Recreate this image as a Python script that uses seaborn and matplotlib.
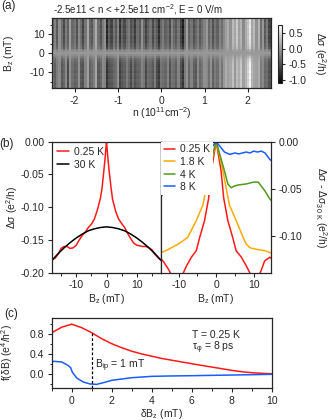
import numpy as np
import pandas as pd
import seaborn as sns
import matplotlib.pyplot as plt
from matplotlib.ticker import MultipleLocator

sns.set_style('ticks')
plt.rcParams['font.family'] = ['Liberation Sans', 'DejaVu Sans']
plt.rcParams['mathtext.fontset'] = 'custom'
plt.rcParams['mathtext.rm'] = 'Liberation Sans'
plt.rcParams['mathtext.it'] = 'Liberation Sans:italic'
plt.rcParams['mathtext.default'] = 'regular'
plt.rcParams['font.size'] = 7.5
plt.rcParams['axes.linewidth'] = 0.9
for k in ['xtick', 'ytick']:
    plt.rcParams[k + '.direction'] = 'out'
    plt.rcParams[k + '.major.size'] = 3
    plt.rcParams[k + '.minor.size'] = 1.8
    plt.rcParams[k + '.major.width'] = 0.8
    plt.rcParams[k + '.minor.width'] = 0.7
    plt.rcParams[k + '.major.pad'] = 2.5
    plt.rcParams[k + '.labelsize'] = 7.5

# ---- (a) map data: streak strength per n column (upper / lower half), scale per Bz row
n_cols = np.round(np.linspace(-2.5, 2.5, 101), 2)
streaks_top = [-0.35, -0.15, -0.45, -0.05, -0.30, -0.55, -0.20, -0.40, 0.05, -0.35, -0.25,
               -0.50, -0.10, -0.30, -0.60, -0.25, 0.10, -0.35, -0.45, -0.15, 0.15,
               -0.30, -0.50, -0.20, -0.05, -0.80, -0.40, -0.60, -0.25, -0.45, -0.15,
               -0.70, -0.35, -0.55, -0.30, -0.20, -0.50, -0.40, -0.65, -0.30, -0.45,
               -0.05, -0.35, -0.60, -0.40, -0.25, -0.55, -0.30, -0.45, -0.75, -0.35,
               -0.20, -0.40, -0.30, -0.55, -0.15, -0.35, -0.45, -0.25, -0.60, -0.85,
               -0.30, 0.05, -0.40, -0.25, -0.50, -0.35, -0.20, -0.45, -0.30, -0.15,
               0.00, -0.35, -0.20, -0.50, -0.25, -0.40, -0.15, -0.30, -0.10, 0.05,
               0.15, -0.05, 0.25, 0.10, 0.35, 0.05, 0.20, -0.10, 0.15, 0.30,
               0.55, 0.10, 0.25, -0.05, 0.20, -0.30, 0.00, -0.45, -0.20, -0.60]
streaks_bot = [-0.25, -0.40, -0.20, -0.10, -0.45, -0.35, -0.10, -0.55, -0.05, -0.30, -0.40,
               -0.35, -0.05, -0.45, -0.50, -0.15, 0.05, -0.40, -0.30, -0.20, 0.10,
               -0.45, -0.35, -0.10, -0.15, -0.70, -0.50, -0.45, -0.35, -0.30, -0.05,
               -0.60, -0.45, -0.40, -0.20, -0.35, -0.55, -0.30, -0.50, -0.40, -0.35,
               -0.15, -0.25, -0.55, -0.30, -0.35, -0.45, -0.20, -0.55, -0.65, -0.25,
               -0.30, -0.35, -0.15, -0.50, -0.25, -0.30, -0.40, -0.15, -0.50, -0.70,
               -0.20, -0.05, -0.35, -0.15, -0.40, -0.45, -0.10, -0.35, -0.25, -0.05,
               -0.10, -0.30, -0.05, -0.40, -0.20, -0.30, -0.05, -0.25, 0.00, 0.15,
               0.05, 0.10, 0.30, 0.00, 0.25, 0.15, 0.35, 0.05, 0.20, 0.40,
               0.65, 0.20, 0.10, 0.05, 0.15, -0.20, -0.10, -0.35, -0.30, -0.50]
bz_rows = list(range(18, -19, -1))
row_scale = [1.00, 1.05, 0.95, 1.00, 1.10, 0.95, 1.00, 1.05, 0.90, 1.00, 1.05, 0.95,
             1.00, 0.90, 0.85, 0.75, 0.45, 0.20, 0.00, 0.20, 0.45, 0.75, 0.85, 0.95,
             1.00, 1.05, 0.95, 1.00, 1.10, 0.95, 1.00, 1.05, 0.90, 1.00, 1.05, 0.95, 1.00]

# ---- (b) left: 0.25 K and 30 K
bz_low = [-18, -17, -16, -15, -14, -13, -12, -11, -10, -9, -8, -7, -6, -5, -4, -3, -2,
          -1.5, -1, -0.5, -0.25, 0, 0.25, 0.5, 1, 1.5,
          2, 3, 4, 5, 6, 7, 8, 9, 10, 11, 12, 13, 14, 15, 16, 17, 18]
ds_low = [-0.180, -0.178, -0.172, -0.163, -0.160, -0.160, -0.163, -0.162, -0.158, -0.150,
          -0.143, -0.138, -0.131, -0.126, -0.118, -0.104, -0.086, -0.072, -0.050, -0.027,
          -0.013, 0.0, -0.013, -0.027, -0.050, -0.070, -0.088, -0.106, -0.118, -0.125,
          -0.131, -0.140, -0.148, -0.155, -0.158, -0.159, -0.160, -0.160, -0.162, -0.165,
          -0.172, -0.177, -0.181]
bz_30 = [-18, -16, -14, -12, -10, -8, -6, -4, -2, 0, 2, 4, 6, 8, 10, 12, 14, 16, 18]
ds_30 = [-0.181, -0.171, -0.162, -0.154, -0.147, -0.141, -0.136, -0.133, -0.131, -0.130,
         -0.131, -0.133, -0.136, -0.141, -0.147, -0.154, -0.162, -0.171, -0.181]

# ---- (b) right: minus 30 K, shifted
bz_r025 = [-15, -14.6, -14, -13, -12, -11, -10, -9, -8, -6.6, -5.3, -4.4, -3.1, -2, -1.3, -0.6,
           0, 0.6, 1.3, 2, 3.1, 4.4, 5.3, 6.7, 8, 9, 10, 11, 12, 12.9, 14.3, 15]
dd_r025 = [-0.124, -0.125, -0.128, -0.134, -0.141, -0.146, -0.147, -0.142, -0.133, -0.123,
           -0.116, -0.102, -0.084, -0.060, -0.031, -0.014, 0.0, -0.014, -0.031, -0.060,
           -0.084, -0.102, -0.116, -0.123, -0.132, -0.140, -0.146, -0.146, -0.137, -0.127,
           -0.123, -0.125]
bz_r18 = [-15, -14.6, -12.9, -10.1, -7.6, -5.3, -3.5, -1.8, -0.9, 0, 0.9, 1.8, 3.5, 5.3,
          7.2, 8, 9, 11.2, 13, 14.3, 15]
dd_r18 = [-0.119, -0.118, -0.115, -0.109, -0.102, -0.084, -0.067, -0.031, -0.015, 0.0,
          -0.015, -0.031, -0.067, -0.084, -0.102, -0.109, -0.113, -0.115, -0.116, -0.118, -0.119]
bz_r4 = [-15, -14.6, -13, -11, -8, -5, -4, -3.1, -2.2, -1, 0, 1, 2.2, 3.1, 4, 5, 6, 8, 10,
         11.2, 12.9, 14.3, 15]
dd_r4 = [-0.063, -0.058, -0.050, -0.045, -0.045, -0.046, -0.048, -0.044, -0.031, -0.014, 0.0,
         -0.014, -0.031, -0.045, -0.049, -0.047, -0.046, -0.045, -0.043, -0.043, -0.052,
         -0.061, -0.064]
bz_r8 = [-15, -12, -9, -6, -3.6, -2.2, -1, 0, 1, 2.2, 3.6, 5, 6, 7, 8, 9, 10, 11, 12, 13, 14.3, 15]
dd_r8 = [-0.013, -0.012, -0.012, -0.012, -0.013, -0.012, -0.005, 0.0, -0.005, -0.011, -0.0135,
         -0.012, -0.013, -0.012, -0.011, -0.012, -0.010, -0.011, -0.010, -0.012, -0.019, -0.021]

# ---- (c) correlation functions
db_red = [-1, -0.5, 0, 0.5, 1, 1.5, 2, 2.5, 3, 3.5, 4, 4.5, 5, 5.5, 6, 6.5, 7, 7.5, 8, 8.5,
          9, 9.5, 10]
f_red = [0.82, 0.93, 0.99, 0.92, 0.82, 0.70, 0.60, 0.52, 0.45, 0.395, 0.35, 0.305, 0.27,
         0.235, 0.20, 0.165, 0.133, 0.10, 0.067, 0.04, 0.02, 0.008, 0.0]
db_blue = [-1, -0.5, -0.2, -0.05, 0, 0.05, 0.25, 0.58, 0.92, 1.25, 1.58, 2, 3, 4, 5, 6, 7, 8, 9, 10]
f_blue = [0.25, 0.235, 0.17, 0.12, 0.06, 0.02, -0.086, -0.166, -0.206, -0.213, -0.18, -0.133,
          -0.08, -0.053, -0.045, -0.04, -0.033, -0.027, -0.02, -0.012]
b_ip = 1

RED, ORANGE, GREEN, BLUE = '#ff1a1a', '#ffaa00', '#4f9c1c', '#1a5cff'
LW = 1.1

fig = plt.figure(figsize=(3.35, 4.2), dpi=100)
W, H = 335, 420


def box(x0, y0, x1, y1):
    return [x0 / W, 1 - y1 / H, (x1 - x0) / W, (y1 - y0) / H]


# ---------------- (a)
ax_a = fig.add_axes(box(52, 18.3, 270.5, 88.3))
cax = fig.add_axes(box(278.3, 25, 282.3, 83.3))
half = len(bz_rows) // 2
map_vals = np.vstack([np.outer(row_scale[:half + 1], streaks_top),
                      np.outer(row_scale[half + 1:], streaks_bot)])
map_df = pd.DataFrame(map_vals, index=bz_rows, columns=n_cols)
sns.heatmap(map_df, ax=ax_a, cmap='gray', vmin=-1.1, vmax=0.75, cbar_ax=cax,
            xticklabels=False, yticklabels=False)
for s in ax_a.spines.values():
    s.set_visible(True)
    s.set_linewidth(0.9)
step_n = n_cols[1] - n_cols[0]
nt = [-2, -1, 0, 1, 2]
ax_a.set_xticks([(v - n_cols[0]) / step_n + 0.5 for v in nt])
ax_a.set_xticklabels([str(v) for v in nt])
bt = [10, 0, -10]
ax_a.set_yticks([bz_rows[0] - v + 0.5 for v in bt])
ax_a.set_yticklabels([str(v) for v in bt])
ax_a.set_yticks([bz_rows[0] - v + 0.5 for v in [15, 5, -5, -15]], minor=True)
ax_a.tick_params(axis='both', which='both', direction='out', left=True, bottom=True)
ax_a.set_xlabel('n (10$^{11}$cm$^{-2}$)')
ax_a.set_ylabel('B$_z$ (mT)')
ax_a.xaxis.set_label_coords(0.5, -0.24)
ax_a.yaxis.set_label_coords(-0.165, 0.5)
cb = ax_a.collections[0].colorbar
cb.outline.set_linewidth(0.8)
cb.set_ticks([0.5, 0.0, -0.5, -1.0])
cb.set_ticklabels(['0.5', '0.0', '-0.5', '-1.0'])
cax.tick_params(length=2.5, width=0.8, pad=2)
cb.set_label('Δσ (e$^2$/h)', rotation=270, va='center')
cax.yaxis.set_label_coords(10.4, 0.5)
fig.text(8 / W, 1 - 6 / H, '(a)', fontsize=8.5, ha='center', va='center')
fig.text(53 / W, 1 - 10 / H, '-2.5e11 < n < +2.5e11 cm$^{-2}$, E = 0 V/m', fontsize=7,
         ha='left', va='center')

# ---------------- (b) left
ax_bl = fig.add_axes(box(52, 141.7, 161, 272.7))
sns.lineplot(x=bz_low, y=ds_low, ax=ax_bl, color=RED, lw=LW, label='0.25 K')
sns.lineplot(x=bz_30, y=ds_30, ax=ax_bl, color='black', lw=LW, label='30 K')
ax_bl.set_xlim(-18, 18)
ax_bl.set_ylim(-0.20, 0.0)
ax_bl.set_yticks([0.0, -0.05, -0.10, -0.15, -0.20])
ax_bl.set_yticklabels(['0.00', '-0.05', '-0.10', '-0.15', '-0.20'])
ax_bl.set_xticks([-10, 0, 10])
ax_bl.xaxis.set_minor_locator(MultipleLocator(5))
ax_bl.set_xticklabels(['-10', '0', '10'])
ax_bl.set_xlabel('B$_z$ (mT)')
ax_bl.set_ylabel('Δσ (e$^2$/h)')
ax_bl.xaxis.set_label_coords(0.5, -0.147)
ax_bl.yaxis.set_label_coords(-0.294, 0.5)
ax_bl.legend(loc='upper left', frameon=False, handlelength=1.1, handletextpad=0.5,
             labelspacing=0.25, borderaxespad=0.3, borderpad=0.2, fontsize=7.5)
fig.text(7 / W, 1 - 144 / H, '(b)', fontsize=8.5, ha='center', va='center')

# ---------------- (b) right
ax_br = fig.add_axes(box(161, 141.7, 271, 272.7))
sns.lineplot(x=bz_r025, y=dd_r025, ax=ax_br, color=RED, lw=LW, label='0.25 K')
sns.lineplot(x=bz_r18, y=dd_r18, ax=ax_br, color=ORANGE, lw=LW, label='1.8 K')
sns.lineplot(x=bz_r4, y=dd_r4, ax=ax_br, color=GREEN, lw=LW, label='4 K')
sns.lineplot(x=bz_r8, y=dd_r8, ax=ax_br, color=BLUE, lw=LW, label='8 K')
ax_br.set_xlim(-14.7, 14.6)
ax_br.set_ylim(-0.1395, 0.0)
ax_br.yaxis.tick_right()
ax_br.yaxis.set_label_position('right')
ax_br.set_yticks([0.0, -0.05, -0.10])
ax_br.set_yticklabels(['0.00', '-0.05', '-0.10'])
ax_br.tick_params(axis='y', left=False)
ax_br.set_xticks([-10, 0, 10])
ax_br.xaxis.set_minor_locator(MultipleLocator(5))
ax_br.set_xticklabels(['-10', '0', '10'])
ax_br.set_xlabel('B$_z$ (mT)')
ax_br.set_ylabel('Δσ - Δσ$_{30\\ K}$ (e$^2$/h)', rotation=270, va='center')
ax_br.xaxis.set_label_coords(0.5, -0.147)
ax_br.yaxis.set_label_coords(1.455, 0.5)
leg = ax_br.legend(loc='upper left', frameon=True, handlelength=1.1, handletextpad=0.5,
                   labelspacing=0.25, borderaxespad=0.0, borderpad=0.25, fontsize=7.5,
                   fancybox=False, framealpha=1)
leg.get_frame().set_facecolor('white')
leg.get_frame().set_edgecolor('none')

# ---------------- (c)
ax_c = fig.add_axes(box(51.7, 318, 271.7, 388))
sns.lineplot(x=db_red, y=f_red, ax=ax_c, color=RED, lw=LW)
sns.lineplot(x=db_blue, y=f_blue, ax=ax_c, color=BLUE, lw=LW)
ax_c.set_xlim(-1, 10)
ax_c.set_ylim(-0.286, 1.114)
ax_c.vlines(b_ip, -0.286, np.interp(b_ip, db_red, f_red), colors='black',
            linestyles=(0, (2.2, 1.6)), lw=0.9)
ax_c.set_xticks([0, 2, 4, 6, 8, 10])
ax_c.xaxis.set_minor_locator(MultipleLocator(1))
ax_c.set_yticks([0.0, 0.4, 0.8])
ax_c.set_yticklabels(['0.0', '0.4', '0.8'])
ax_c.yaxis.set_minor_locator(MultipleLocator(0.2))
ax_c.set_xlabel('δB$_z$ (mT)')
ax_c.set_ylabel('f(δB) (e$^4$/h$^2$)')
ax_c.xaxis.set_label_coords(0.5, -0.27)
ax_c.yaxis.set_label_coords(-0.168, 0.5)
ax_c.text(1.17, 0.155, 'B$_{ip}$ = 1 mT', fontsize=7.5, ha='left', va='center')
ax_c.text(6.0, 0.77, 'T = 0.25 K', fontsize=7.5, ha='left', va='center')
ax_c.text(6.0, 0.51, 'τ$_φ$ = 8 ps', fontsize=7.5, ha='left', va='center')
fig.text(11 / W, 1 - 314 / H, '(c)', fontsize=8.5, ha='center', va='center')

fig.savefig('out.png', dpi=100)
